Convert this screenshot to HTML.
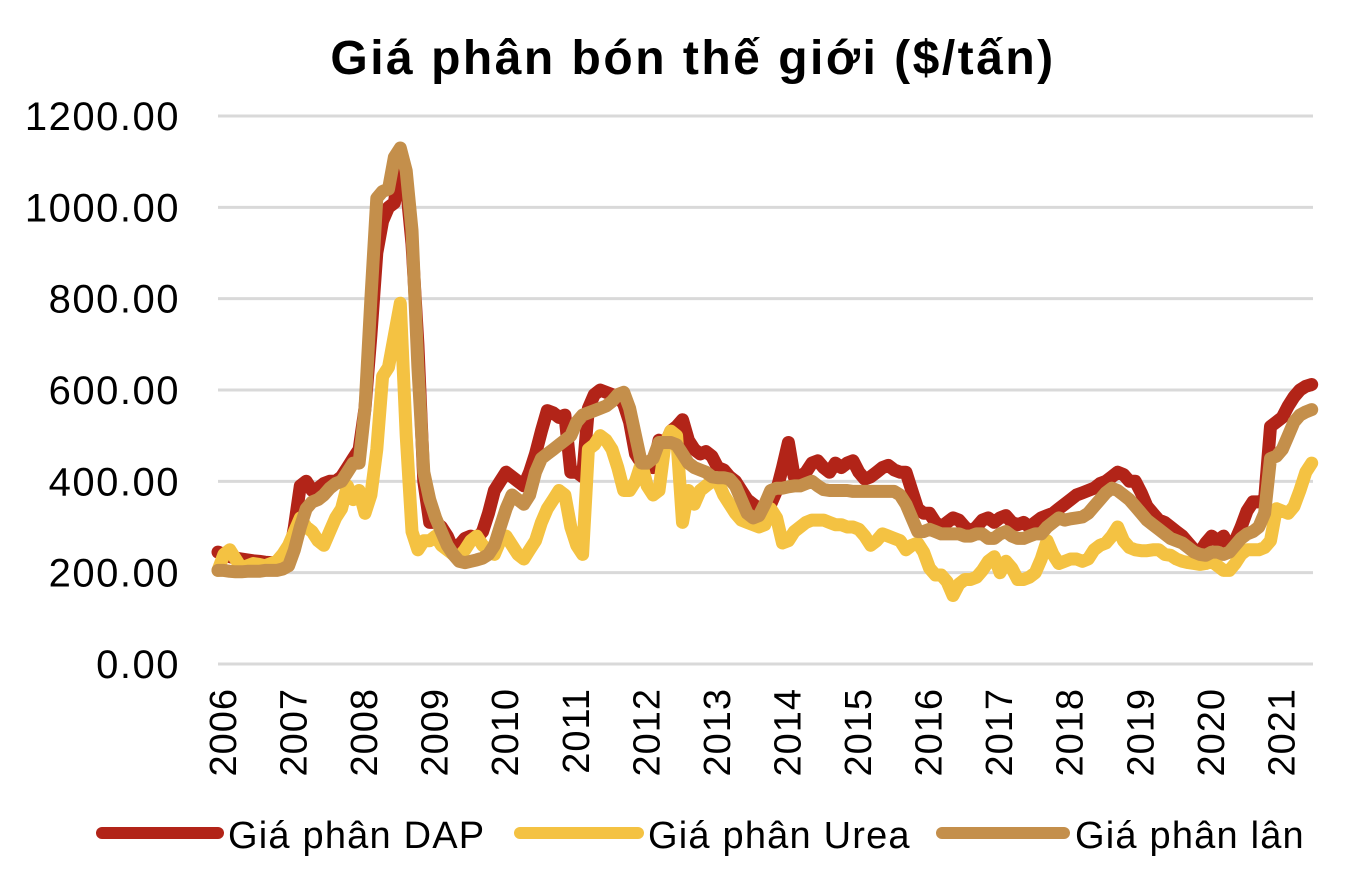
<!DOCTYPE html>
<html><head><meta charset="utf-8"><style>
body{margin:0;background:#fff;}
svg{display:block;font-family:"Liberation Sans",sans-serif;}
</style></head><body>
<svg id="chart" width="1370" height="896" viewBox="0 0 1370 896">
<text x="693" y="74" text-anchor="middle" font-size="48" font-weight="bold" letter-spacing="2.5" fill="#000">Giá phân bón thế giới ($/tấn)</text>
<g id="grid"></g><g id="ylab"></g><g id="xlab"></g><g id="series"></g>
<g>
<line x1="102" y1="833" x2="218" y2="833" stroke="#b22418" stroke-width="12" stroke-linecap="round"/>
<text x="228" y="848" font-size="38" letter-spacing="1.2" fill="#000">Giá phân DAP</text>
<line x1="520" y1="833" x2="638" y2="833" stroke="#f4c242" stroke-width="12" stroke-linecap="round"/>
<text x="648" y="848" font-size="38" letter-spacing="1.2" fill="#000">Giá phân Urea</text>
<line x1="942" y1="833" x2="1064" y2="833" stroke="#c48f4b" stroke-width="12" stroke-linecap="round"/>
<text x="1075" y="848" font-size="38" letter-spacing="1.2" fill="#000">Giá phân lân</text>
</g>
</svg>
<script>
const years = ['2006','2007','2008','2009','2010','2011','2012','2013','2014','2015','2016','2017','2018','2019','2020','2021'];
const yTicks = [0,200,400,600,800,1000,1200];
const dap = [
245,240,235,232,230,228,226,225,223,222,220,225,
230,300,390,400,380,385,395,400,400,410,430,450,
470,560,720,900,970,1000,1010,1100,1050,920,700,400,
310,310,300,280,250,260,275,280,275,290,330,380,
400,420,410,400,390,420,460,510,555,550,540,545,
420,420,410,560,590,600,595,590,585,570,530,460,
440,440,430,490,480,510,520,535,490,470,460,465,
455,430,425,410,400,380,360,350,340,330,350,380,
430,485,410,410,420,440,445,430,420,440,430,440,
445,420,405,410,420,430,435,425,420,420,380,340,
330,330,310,300,310,320,315,300,290,300,315,320,
310,320,325,310,305,310,300,310,320,325,330,340,
350,360,370,375,380,385,395,400,410,420,415,400,
400,375,345,330,315,310,300,290,280,265,250,245,
265,280,270,280,255,270,300,335,355,355,360,520,
530,540,565,585,600,608,612];
const urea = [
205,240,250,230,210,215,220,218,215,220,225,240,
260,290,320,300,290,270,260,290,320,340,390,360,
380,330,370,470,630,650,720,790,500,290,250,270,
270,280,260,250,240,235,250,270,280,260,250,240,
270,280,260,240,230,250,270,310,340,360,380,370,
300,260,240,470,480,500,490,470,430,380,380,400,
440,390,370,380,480,510,500,310,380,350,380,390,
400,400,370,350,330,315,310,305,300,305,340,320,
265,270,290,300,310,315,315,315,310,305,305,300,
300,295,280,260,270,285,280,275,270,250,260,265,
245,210,195,195,180,150,175,185,185,190,205,225,
235,200,225,210,185,185,190,200,230,270,240,220,
225,230,230,225,230,250,260,265,280,300,270,255,
250,248,248,250,250,240,238,230,225,222,220,218,
220,225,215,205,205,220,240,250,250,250,255,270,
340,335,330,345,380,420,440];
const lan = [
205,205,203,202,202,203,203,203,205,205,205,208,
215,250,300,340,355,360,370,385,395,400,420,440,
440,560,800,1020,1035,1040,1110,1130,1080,950,650,420,
360,320,290,260,240,225,222,225,228,232,240,260,
300,340,370,360,350,370,420,450,460,470,480,490,
500,530,545,550,555,560,565,575,590,595,560,500,
440,440,450,485,485,485,480,460,440,430,425,420,
410,408,408,405,390,360,330,320,325,350,380,385,
385,388,390,390,395,400,390,382,380,380,380,380,
378,378,378,378,378,378,378,378,370,350,320,290,
290,295,290,285,285,285,285,280,280,285,285,275,
275,285,290,280,275,275,280,285,285,300,310,320,
315,318,320,322,330,345,360,375,385,380,370,360,
345,330,315,305,295,285,275,270,265,255,245,240,
238,245,245,240,245,260,275,285,290,300,330,450,
455,470,500,530,545,552,557];

const NS='http://www.w3.org/2000/svg';
const x0=218, xStep=5.88, y0=664, yScale=(664-116)/1200;
function xAt(i){return x0+i*xStep;}
function yAt(v){return y0-v*yScale;}
function mk(tag,attrs,parent){const e=document.createElementNS(NS,tag);for(const k in attrs)e.setAttribute(k,attrs[k]);parent.appendChild(e);return e;}
const grid=document.getElementById('grid'), ylab=document.getElementById('ylab'), xlab=document.getElementById('xlab'), ser=document.getElementById('series');
yTicks.forEach(t=>{
  const l=mk('line',{x1:218,x2:1313,y1:yAt(t),y2:yAt(t),stroke:'#d9d9d9','stroke-width':3},grid);
  
  
  const tx=mk('text',{x:180,y:yAt(t)+14,'text-anchor':'end','font-size':40,'letter-spacing':'1.5',fill:'#000'},ylab);
  tx.textContent=t.toFixed(2);
  
  
});
years.forEach((y,i)=>{
  const cx=xAt(i*12)+4+14;
  const tx=mk('text',{transform:'translate('+cx+',688) rotate(-90)','text-anchor':'end','font-size':38,'letter-spacing':'1',fill:'#000'},xlab);
  tx.textContent=y;
  
  
});
[[dap,'#b22418','dap-line'],[urea,'#f4c242','urea-line'],[lan,'#c48f4b','lan-line']].forEach(([d,c,n])=>{
  const pts=d.map((v,i)=>xAt(i).toFixed(1)+','+yAt(v).toFixed(1)).join(' ');
  const p=mk('polyline',{points:pts,fill:'none',stroke:c,'stroke-width':13,'stroke-linejoin':'round','stroke-linecap':'round'},ser);
  
  
});
</script>
</body></html>
